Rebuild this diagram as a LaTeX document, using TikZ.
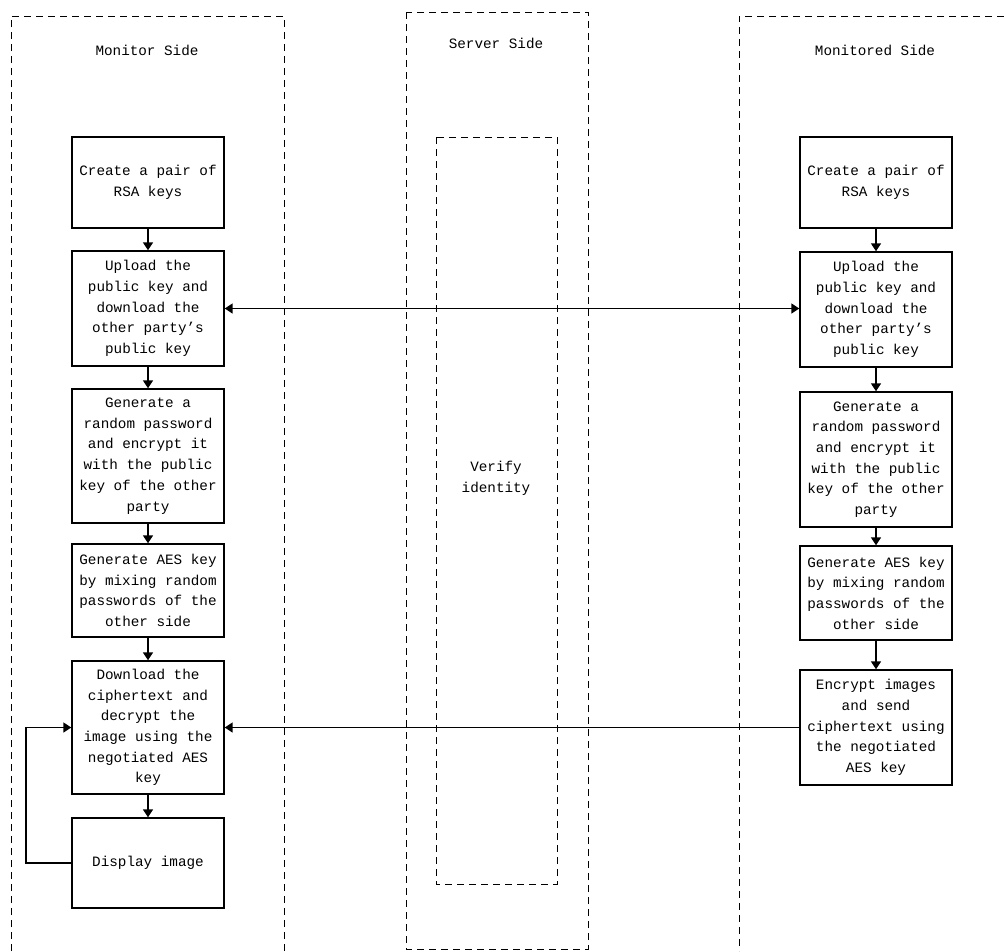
\documentclass[tikz,border=0pt]{standalone}
\usepackage{fontspec}
\setmonofont{Liberation Mono}
\usetikzlibrary{arrows.meta}
\begin{document}
\begin{tikzpicture}[x=1pt,y=-1pt,
  box/.style={draw, line width=1.4pt, minimum width=152pt, inner sep=0pt, align=center,
    font=\ttfamily\fontsize{14.3pt}{20.7pt}\selectfont},
  lbl/.style={font=\ttfamily\fontsize{14.3pt}{20.7pt}\selectfont, align=center, inner sep=0pt},
  region/.style={line width=1pt, dash pattern=on 7pt off 5pt},
  arr/.style={line width=1.5pt, -{Triangle[width=10pt,length=8pt]}},
  darr/.style={line width=1.5pt, {Triangle[width=10pt,length=8pt]}-{Triangle[width=10pt,length=8pt]}}
]
\useasboundingbox (0,0) rectangle (1004,951);
% regions
\draw[region] (11,951) -- (11,16) -- (284,16) -- (284,951);
\draw[region] (406,12) rectangle (588,949);
\draw[region] (436,137) rectangle (557,884);
\draw[region] (1004,16) -- (739,16) -- (739,951);
\node[lbl] (tl) at (147,50) {Monitor Side};
\node[lbl] (ts) at (496,43) {Server Side};
\node[lbl] (tr) at (875,50) {Monitored Side};
\node[lbl] (ver) at (496,478) {Verify\\identity};
% left column
\node[box, minimum height=91pt] (L1) at (148,182.5) {Create a pair of\\RSA keys};
\node[box, minimum height=115pt] (L2) at (148,308.5) {Upload the\\public key and\\download the\\other party’s\\public key};
\node[box, minimum height=134pt] (L3) at (148,456) {Generate a\\random password\\and encrypt it\\with the public\\key of the other\\party};
\node[box, minimum height=93pt] (L4) at (148,590.5) {Generate AES key\\by mixing random\\passwords of the\\other side};
\node[box, minimum height=133pt] (L5) at (148,727.5) {Download the\\ciphertext and\\decrypt the\\image using the\\negotiated AES\\key};
\node[box, minimum height=90pt] (L6) at (148,863) {Display image};
% right column
\node[box, minimum height=91pt] (R1) at (876,182.5) {Create a pair of\\RSA keys};
\node[box, minimum height=115pt] (R2) at (876,309.5) {Upload the\\public key and\\download the\\other party’s\\public key};
\node[box, minimum height=135pt] (R3) at (876,459.5) {Generate a\\random password\\and encrypt it\\with the public\\key of the other\\party};
\node[box, minimum height=94pt] (R4) at (876,593) {Generate AES key\\by mixing random\\passwords of the\\other side};
\node[box, minimum height=115pt] (R5) at (876,727.5) {Encrypt images\\and send\\ciphertext using\\the negotiated\\AES key};
% arrows
\draw[arr] (L1) -- (L2);
\draw[arr] (L2) -- (L3);
\draw[arr] (L3) -- (L4);
\draw[arr] (L4) -- (L5);
\draw[arr] (L5) -- (L6);
\draw[arr] (R1) -- (R2);
\draw[arr] (R2) -- (R3);
\draw[arr] (R3) -- (R4);
\draw[arr] (R4) -- (R5);
\draw[darr] (L2.east) -- (R2.west |- L2.east);
\draw[arr] (R5.west) -- (L5.east);
\coordinate (lp) at (26,0);
\draw[arr] (L6.west) -- (lp |- L6.west) -- (lp |- L5.west) -- (L5.west);
\end{tikzpicture}
\end{document}
